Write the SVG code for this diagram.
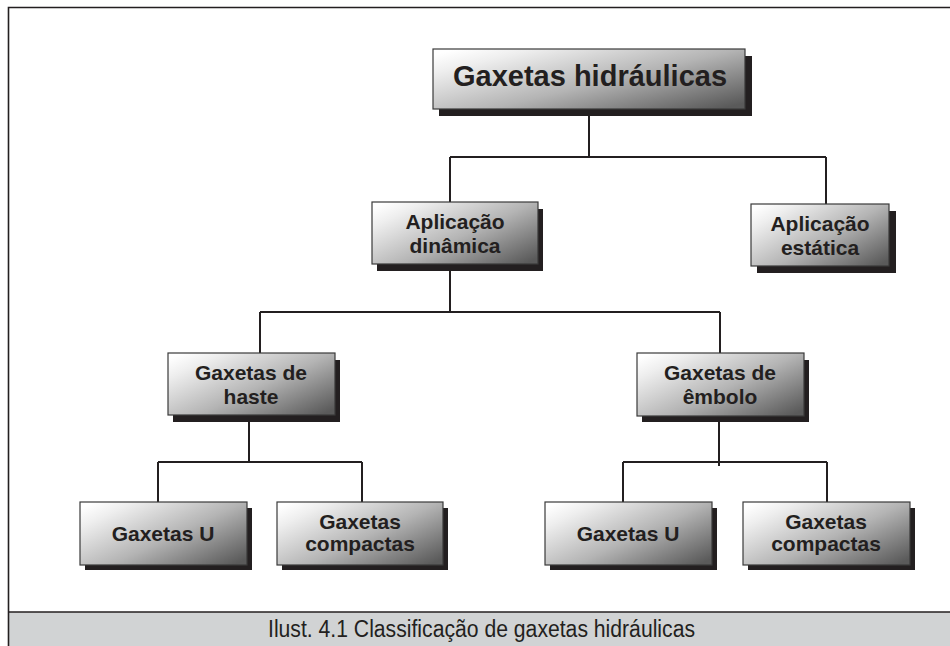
<svg xmlns="http://www.w3.org/2000/svg" width="950" height="646" viewBox="0 0 950 646">
  <defs>
    <linearGradient id="boxGrad" x1="0" y1="0.1" x2="1" y2="0.9">
      <stop offset="0" stop-color="#ffffff"/>
      <stop offset="0.15" stop-color="#eeeeee"/>
      <stop offset="0.55" stop-color="#b4b4b4"/>
      <stop offset="1" stop-color="#5a5a5a"/>
    </linearGradient>
    <style>
      .shadow { fill: #231f20; }
      .box { fill: url(#boxGrad); stroke: #3a3a3a; stroke-width: 1.2; }
      .lbl { font-family: "Liberation Sans", Arial, sans-serif; font-weight: bold; font-size: 21px; fill: #231f20; text-anchor: middle; }
      .title { font-size: 29px; }
      .conn { stroke: #231f20; stroke-width: 2; fill: none; }
      .frame { stroke: #231f20; stroke-width: 1.6; fill: none; }
      .caption { font-family: "Liberation Sans", Arial, sans-serif; font-size: 23px; fill: #231f20; }
    </style>
  </defs>
  <rect x="0" y="0" width="950" height="646" fill="#ffffff"/>
  <!-- frame -->
  <g id="frame">
    <rect x="8.5" y="612" width="942" height="34" fill="#d1d3d4"/>
    <path class="frame" d="M8.5 646 V7.5 H950"/>
    <path class="frame" d="M8.5 612 H950"/>
    <text class="caption" x="268" y="637" textLength="427" lengthAdjust="spacingAndGlyphs">Ilust. 4.1 Classificação de gaxetas hidráulicas</text>
  </g>
  <!-- connectors -->
  <g id="connectors">
    <path class="conn" d="M589 116 V157"/>
    <path class="conn" d="M450 157 H826"/>
    <path class="conn" d="M450 157 V202"/>
    <path class="conn" d="M826 157 V204"/>
    <path class="conn" d="M450 271 V312"/>
    <path class="conn" d="M260 312 H720"/>
    <path class="conn" d="M260 312 V353"/>
    <path class="conn" d="M720 312 V353"/>
    <path class="conn" d="M249 422 V462"/>
    <path class="conn" d="M158 462 H362"/>
    <path class="conn" d="M158 462 V502"/>
    <path class="conn" d="M362 462 V502"/>
    <path class="conn" d="M719 422 V466"/>
    <path class="conn" d="M623 462 H827"/>
    <path class="conn" d="M623 462 V502"/>
    <path class="conn" d="M827 462 V502"/>
  </g>
  <!-- nodes -->
  <g id="node-gaxetas-hidraulicas">
    <rect class="shadow" x="439" y="56" width="313" height="60"/>
    <rect class="box" x="433" y="49" width="312" height="60"/>
    <text class="lbl title" x="590" y="86">Gaxetas hidráulicas</text>
  </g>
  <g id="node-aplicacao-dinamica">
    <rect class="shadow" x="377" y="209" width="166" height="62"/>
    <rect class="box" x="372" y="202" width="166" height="62"/>
    <text class="lbl" x="455" y="229">Aplicação</text>
    <text class="lbl" x="455" y="253">dinâmica</text>
  </g>
  <g id="node-aplicacao-estatica">
    <rect class="shadow" x="757" y="211" width="139" height="62"/>
    <rect class="box" x="751" y="204" width="138" height="62"/>
    <text class="lbl" x="820" y="231">Aplicação</text>
    <text class="lbl" x="820" y="255">estática</text>
  </g>
  <g id="node-gaxetas-haste">
    <rect class="shadow" x="173" y="360" width="167" height="62"/>
    <rect class="box" x="168" y="353" width="167" height="62"/>
    <text class="lbl" x="251" y="380">Gaxetas de</text>
    <text class="lbl" x="251" y="404">haste</text>
  </g>
  <g id="node-gaxetas-embolo">
    <rect class="shadow" x="642" y="360" width="167" height="62"/>
    <rect class="box" x="637" y="353" width="167" height="63"/>
    <text class="lbl" x="720" y="380">Gaxetas de</text>
    <text class="lbl" x="720" y="404">êmbolo</text>
  </g>
  <g id="node-gaxetas-u-1">
    <rect class="shadow" x="85" y="508" width="167" height="62"/>
    <rect class="box" x="80" y="502" width="167" height="63"/>
    <text class="lbl" x="163" y="541">Gaxetas U</text>
  </g>
  <g id="node-gaxetas-compactas-1">
    <rect class="shadow" x="282" y="508" width="166" height="62"/>
    <rect class="box" x="277" y="502" width="166" height="63"/>
    <text class="lbl" x="360" y="529">Gaxetas</text>
    <text class="lbl" x="360" y="551">compactas</text>
  </g>
  <g id="node-gaxetas-u-2">
    <rect class="shadow" x="550" y="508" width="167" height="62"/>
    <rect class="box" x="545" y="502" width="167" height="63"/>
    <text class="lbl" x="628" y="541">Gaxetas U</text>
  </g>
  <g id="node-gaxetas-compactas-2">
    <rect class="shadow" x="748" y="508" width="167" height="62"/>
    <rect class="box" x="743" y="502" width="167" height="63"/>
    <text class="lbl" x="826" y="529">Gaxetas</text>
    <text class="lbl" x="826" y="551">compactas</text>
  </g>
</svg>
